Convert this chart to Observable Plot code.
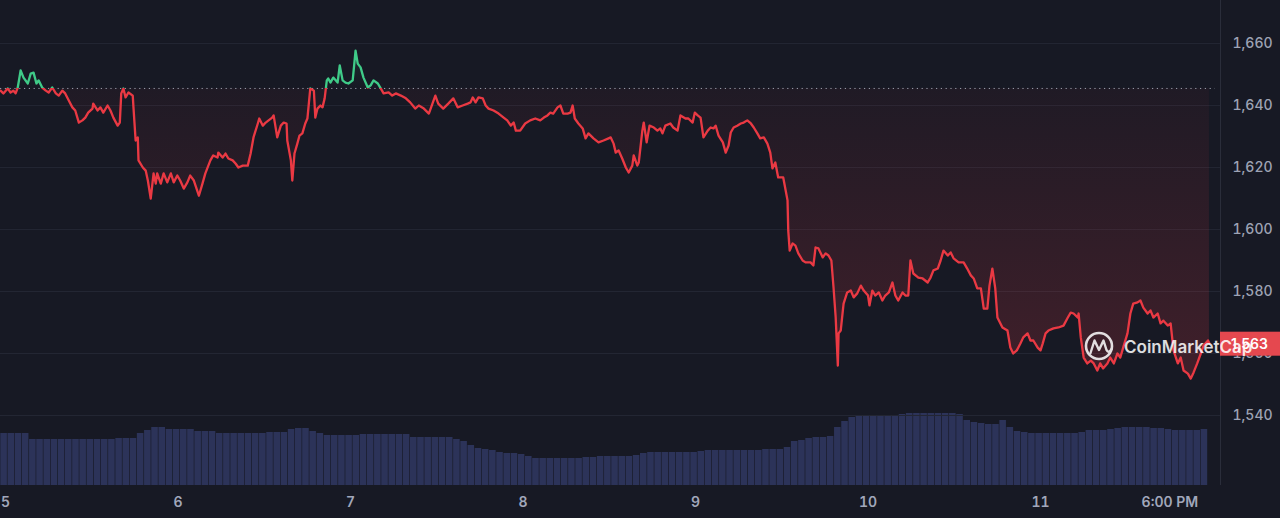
<!DOCTYPE html>
<html>
<head>
<meta charset="utf-8">
<script src="https://cdn.jsdelivr.net/npm/d3@7"></script>
<script src="https://cdn.jsdelivr.net/npm/@observablehq/plot@0.6"></script>
<style>
html,body{margin:0;padding:0;background:#171924;}
#chart{position:relative;width:1280px;height:518px;overflow:hidden;background:#171924;font-family:Inter,"Noto Sans",sans-serif;}
#chart svg{position:absolute;left:0;top:0;}
#chart svg.price g[aria-label="y-axis tick label"] text{font-weight:500;}
#chart svg.price g[aria-label="x-axis tick label"] text{font-weight:600;}
</style>
</head>
<body>
<div id="chart"></div>
<script>
// ---- Data ----
// Hours since Feb 5 2023 00:00 UTC, and the price at that time
const startDay = Date.UTC(2023, 1, 5);
const hours = [
-0.7,-0.3,0.3,0.7,1.1,1.4,1.7,2.1,2.5,3.1,3.5,3.9,4.3,4.6,5.1,5.6,6.0,6.5,7.0,7.4,7.9,8.3,8.8,9.3,9.7,10.2,10.7,11.1,11.5,12.1,12.2,12.8,13.2,13.6,14.2,14.6,15.0,15.6,15.9,16.1,16.4,16.7,17.1,17.7,17.8,18.1,18.4,18.5,19.1,19.5,19.8,20.2,20.6,20.9,21.1,21.6,22.0,22.5,23.0,23.4,23.9,24.3,24.8,25.3,25.7,26.2,26.9,27.4,27.8,
28.5,28.9,29.5,29.6,30.2,30.6,31.0,31.6,32.0,32.4,33.0,33.7,34.1,34.5,35.1,35.3,35.8,36.2,36.6,37.1,37.3,37.8,38.3,38.7,39.1,39.2,39.7,39.9,40.2,40.6,40.9,41.3,41.7,42.0,42.4,42.9,43.1,43.4,43.8,44.1,44.4,44.7,44.9,45.2,45.6,46.2,46.5,46.9,47.3,47.7,48.3,48.7,49.0,49.4,49.8,50.4,50.8,51.2,51.8,52.2,52.6,53.3,53.8,54.3,55.0,55.7,56.3,
57.0,57.5,58.2,58.9,59.4,59.8,60.2,60.9,61.6,62.3,62.9,63.6,64.3,64.7,65.0,65.4,65.8,66.4,66.8,67.2,67.9,68.6,69.3,69.8,70.3,70.7,71.0,71.6,72.3,73.0,73.7,74.4,74.9,75.4,75.8,76.2,76.8,77.2,77.6,78.2,78.6,78.9,79.2,79.7,80.3,80.7,81.1,81.8,82.5,83.2,83.9,
84.2,84.6,84.9,85.3,85.8,86.3,86.7,87.2,87.4,87.9,88.1,88.6,88.8,89.2,89.6,90.2,90.7,91.1,91.4,91.8,92.5,92.9,93.5,93.9,94.6,95.0,95.6,95.9,96.3,96.7,97.1,97.7,98.1,98.5,98.8,99.2,99.8,100.2,100.6,100.9,101.3,101.8,102.3,102.7,103.2,103.7,104.1,104.6,105.0,105.5,106.0,106.4,106.7,107.1,107.5,108.2,108.8,108.9,109.1,109.5,109.9,110.3,110.9,111.3,
112.0,112.4,112.7,113.1,113.7,114.1,114.5,114.9,115.2,115.5,115.8,115.9,116.2,116.6,117.1,117.6,118.0,118.5,119.0,119.4,120.0,120.2,120.6,121.0,121.5,122.0,122.4,122.9,123.4,123.8,124.2,124.8,125.2,125.6,125.9,126.3,127.0,127.6,128.3,128.7,129.1,129.7,130.1,130.5,131.1,131.5,131.9,132.6,133.3,133.8,134.3,134.7,135.2,135.7,136.1,136.6,136.9,137.3,137.7,138.0,138.7,139.4,
139.8,140.2,140.7,141.2,141.6,142.2,142.6,143.0,143.6,144.0,144.3,144.7,145.1,145.8,146.5,147.2,147.8,148.2,148.6,149.2,149.3,149.6,150.0,150.5,151.0,151.4,151.9,152.3,152.7,153.3,153.7,154.2,154.7,155.1,155.5,156.1,156.5,156.9,157.5,157.9,158.3,158.9,159.3,159.7,160.3,160.7,161.1,161.7,162.1,162.5,163.1,163.5,163.9,164.5,164.9,165.3,165.8,166.3,166.7,167.3,167.5
];
const prices = [
1644.8,1643.9,1645.5,1644.2,1644.8,1643.9,1645.8,1651.3,1649.0,1647.1,1650.3,1650.6,1647.1,1648.1,1645.8,1644.8,1644.2,1645.8,1643.9,1643.2,1644.8,1643.9,1641.6,1639.4,1638.4,1634.5,1635.2,1636.1,1637.7,1639.0,1640.6,1638.4,1639.4,1637.7,1640.0,1638.4,1636.1,1633.5,1634.5,1643.9,1645.5,1642.6,1644.2,1643.2,1639.4,1628.7,1629.7,1622.3,1620.0,1619.0,1615.8,1610.0,1618.1,1614.8,1618.1,1614.8,1618.1,1615.2,1618.1,1615.2,1617.4,1615.8,1613.2,1615.2,1617.4,1615.8,1610.9,1614.8,1618.1,
1622.3,1623.9,1623.2,1624.8,1623.2,1624.5,1622.9,1622.3,1621.3,1620.0,1620.6,1620.6,1624.5,1629.7,1634.2,1635.8,1633.5,1634.5,1635.2,1636.1,1636.8,1629.7,1633.5,1634.5,1634.2,1628.7,1622.3,1615.8,1624.5,1627.7,1630.3,1631.0,1634.2,1635.8,1645.5,1644.8,1636.1,1639.0,1640.0,1639.4,1642.3,1648.1,1648.7,1647.4,1649.0,1647.4,1652.9,1648.1,1647.4,1647.1,1648.1,1657.7,1653.5,1652.3,1649.0,1645.8,1646.5,1648.1,1647.1,1645.5,1643.9,1644.2,1643.2,1643.9,1643.2,1642.3,1641.0,
1639.0,1640.0,1639.0,1637.4,1640.6,1643.2,1640.6,1639.0,1640.6,1642.3,1639.4,1640.0,1640.6,1641.0,1642.6,1641.0,1642.6,1642.3,1640.0,1639.0,1638.4,1637.4,1636.1,1635.2,1633.5,1634.5,1631.9,1631.9,1634.2,1635.2,1635.8,1635.2,1636.1,1636.8,1637.7,1637.4,1639.4,1640.0,1637.4,1637.4,1637.7,1640.0,1635.8,1634.2,1632.6,1629.4,1631.0,1629.4,1628.1,1628.7,1629.4,
1629.7,1627.7,1624.8,1625.5,1622.9,1620.0,1618.4,1620.6,1623.9,1620.6,1621.6,1631.9,1634.5,1628.1,1633.5,1632.9,1631.9,1632.6,1631.0,1633.5,1634.2,1632.9,1631.9,1636.8,1635.8,1635.8,1634.5,1637.7,1636.8,1636.1,1629.7,1631.9,1632.9,1632.6,1633.5,1630.3,1628.1,1624.8,1627.1,1631.3,1632.9,1633.5,1634.2,1634.5,1635.2,1634.2,1632.9,1631.0,1629.4,1629.7,1627.7,1624.8,1619.7,1621.6,1616.8,1616.8,1609.4,1599.7,1593.2,1595.5,1594.8,1592.3,1590.0,1589.4,
1589.4,1588.4,1594.2,1593.9,1591.0,1592.3,1591.6,1590.0,1581.3,1571.6,1556.1,1566.5,1567.4,1576.1,1579.7,1580.3,1578.1,1579.4,1581.9,1580.3,1578.7,1575.5,1580.3,1578.7,1579.7,1577.1,1578.7,1579.7,1582.9,1578.7,1577.1,1579.7,1578.7,1578.7,1590.0,1585.8,1584.5,1584.2,1582.9,1584.5,1586.8,1587.4,1590.0,1593.2,1591.6,1592.6,1590.7,1589.4,1589.4,1587.4,1585.2,1584.2,1581.0,1581.0,1574.5,1574.5,1581.9,1587.4,1581.0,1571.6,1568.4,1567.4,
1561.9,1560.0,1561.0,1563.2,1565.2,1566.5,1564.2,1564.2,1561.9,1561.0,1563.2,1566.5,1567.4,1568.1,1568.4,1569.0,1571.6,1573.2,1572.9,1571.6,1572.9,1565.2,1558.7,1556.8,1557.7,1556.8,1554.5,1556.8,1555.2,1556.8,1558.7,1556.8,1560.0,1558.7,1561.9,1566.5,1572.9,1576.1,1576.5,1577.1,1574.8,1572.9,1573.9,1571.6,1572.9,1569.7,1570.6,1569.0,1569.7,1561.0,1556.8,1558.7,1554.5,1553.5,1551.9,1553.9,1556.8,1560.0,1562.6,1564.2,1563.2
];
// Hourly volume bars (relative units), first bar starts at volumeStartHour
const volumeStartHour = -0.7;
const volumes = [
52,52,52,52,
46,46,46,46,46,46,46,46,46,46,46,46,
47,47,47,
52,55,58,58,56,56,56,56,
54,54,54,
52,52,52,52,52,52,52,
53,53,53,
56,57,57,54,52,
50,50,50,50,50,
51,51,51,51,51,51,51,
48,48,48,48,48,48,
46,44,40,37,36,35,33,32,32,31,
29,27,27,27,27,27,27,27,
28,28,29,29,29,29,29,30,
32,33,33,33,33,33,33,33,34,
35,35,35,35,35,35,35,35,
36,36,36,38,
44,45,47,48,48,49,
58,64,68,69,69,69,69,70,70,71,
72,72,72,72,72,72,72,71,
65,63,62,61,61,65,58,
54,53,52,52,52,52,52,52,52,53,
55,55,55,56,57,58,58,58,58,
57,57,56,55,55,55,55,56
];
const baselinePrice = 1645.5;
const lastPrice = 1563;
const priceTicks = [1540, 1560, 1580, 1600, 1620, 1640, 1660];
const xTickHours = [0, 24, 48, 72, 96, 120, 144, 162];
const xTickLabels = ["5", "6", "7", "8", "9", "10", "11", "6:00 PM"];
const brandText = "CoinMarketCap";

// ---- Build ----
const H_MS = 3600e3;
const toDate = h => new Date(startDay + h * H_MS);
const data = hours.map((h, i) => ({t: toDate(h), p: prices[i]}));
const volData = volumes.map((v, i) => ({t0: toDate(volumeStartHour + i), t1: toDate(volumeStartHour + i + 1), v}));
const tickDates = xTickHours.map(toDate);
const tickLabelMap = new Map(tickDates.map((d, i) => [+d, xTickLabels[i]]));

const W = 1280, H = 518, mR = 60, mB = 33;
const xDomain = [toDate(-0.7), toDate(169.04)];
const RED = "#ea3943", GREEN = "#3fcb88";

const root = document.getElementById("chart");

const volChart = Plot.plot({
  width: W, height: H, marginLeft: 0, marginRight: mR, marginTop: 0, marginBottom: mB,
  style: {background: "transparent"},
  x: {type: "utc", domain: xDomain, axis: null},
  y: {domain: [0, 485], axis: null},
  marks: [
    Plot.rectY(volData, {x1: "t0", x2: "t1", y: "v", fill: "#2c3359", insetLeft: 0.3, insetRight: 0.3})
  ]
});
root.appendChild(volChart);

const priceChart = Plot.plot({
  width: W, height: H, marginLeft: 0, marginRight: mR, marginTop: 0, marginBottom: mB,
  style: {background: "transparent", color: "#9ea3b4", fontFamily: "Inter, 'Noto Sans', sans-serif", fontSize: "14px", overflow: "visible"},
  x: {type: "utc", domain: xDomain, label: null},
  y: {domain: [1517.42, 1673.87], label: null},
  marks: [
    Plot.ruleY(priceTicks, {stroke: "#232633", strokeWidth: 1}),
    Plot.ruleX([xDomain[1]], {stroke: "#2a2d3a", strokeWidth: 1}),
    Plot.areaY(data, {x: "t", y1: baselinePrice, y2: "p", fill: "url(#fillGrad)", curve: "linear"}),
    Plot.ruleY([baselinePrice], {stroke: "#9ba0ae", strokeWidth: 1, strokeDasharray: "1.2,3.6", x1: xDomain[0], x2: toDate(168.3)}),
    Plot.line(data, {x: "t", y: "p", stroke: "url(#lineGrad)", strokeWidth: 2.3, strokeLinejoin: "round"}),
    Plot.axisX({ticks: tickDates, tickSize: 0, tickPadding: 12, fontSize: 14, fill: "#a1a7bb", label: null,
      tickFormat: d => tickLabelMap.get(+d)}),
    Plot.axisY({anchor: "right", ticks: priceTicks, tickSize: 0, tickPadding: 12, fontSize: 14, fill: "#9ea3b4", label: null,
      tickFormat: d3.format(",")})
  ]
});
priceChart.classList.add("price");
root.appendChild(priceChart);

// gradients
const yS = priceChart.scale("y");
const yBase = yS.apply(baselinePrice);
const svg = d3.select(priceChart);
const defs = svg.insert("defs", ":first-child");
const lg = defs.append("linearGradient").attr("id", "lineGrad")
  .attr("gradientUnits", "userSpaceOnUse").attr("x1", 0).attr("x2", 0).attr("y1", 0).attr("y2", H);
lg.append("stop").attr("offset", yBase / H).attr("stop-color", GREEN);
lg.append("stop").attr("offset", yBase / H).attr("stop-color", RED);
const yTop = yS.apply(1660), yBot = yS.apply(1550);
const fg = defs.append("linearGradient").attr("id", "fillGrad")
  .attr("gradientUnits", "userSpaceOnUse").attr("x1", 0).attr("x2", 0).attr("y1", yTop).attr("y2", yBot);
const off = (yBase - yTop) / (yBot - yTop);
fg.append("stop").attr("offset", 0).attr("stop-color", GREEN).attr("stop-opacity", 0.12);
fg.append("stop").attr("offset", off).attr("stop-color", GREEN).attr("stop-opacity", 0.0);
fg.append("stop").attr("offset", off).attr("stop-color", RED).attr("stop-opacity", 0.04);
fg.append("stop").attr("offset", 1).attr("stop-color", RED).attr("stop-opacity", 0.2);

// current price tag
const yTag = yS.apply(lastPrice);
const tag = svg.append("g").attr("text-anchor", "start");
tag.append("rect").attr("x", W - mR).attr("y", yTag - 12).attr("width", mR).attr("height", 24).attr("fill", "#e5484f");
tag.append("text").attr("x", W - mR + 11).attr("y", yTag).attr("dy", "0.35em").attr("text-anchor", "start")
  .attr("fill", "#ffffff").attr("font-size", 14).attr("font-weight", 600)
  .attr("font-family", "Inter, sans-serif").text(d3.format(",")(lastPrice));

// watermark
const wm = svg.append("g").attr("opacity", 0.85).attr("text-anchor", "start");
wm.append("circle").attr("cx", 1099).attr("cy", 346).attr("r", 13)
  .attr("fill", "none").attr("stroke", "#ffffff").attr("stroke-width", 2.6);
wm.append("path").attr("d", "M1090.5,353 L1094.5,340.5 L1099,350 L1103.5,340.5 L1106.5,350 Q1108.5,354 1111.5,349")
  .attr("fill", "none").attr("stroke", "#ffffff").attr("stroke-width", 2.4).attr("stroke-linejoin", "round").attr("stroke-linecap", "round");
wm.append("text").attr("x", 1124).attr("y", 353).attr("fill", "#ffffff").attr("text-anchor", "start")
  .attr("font-size", 17).attr("font-weight", 600).attr("font-family", "Inter, sans-serif").text(brandText);
</script>
</body>
</html>
